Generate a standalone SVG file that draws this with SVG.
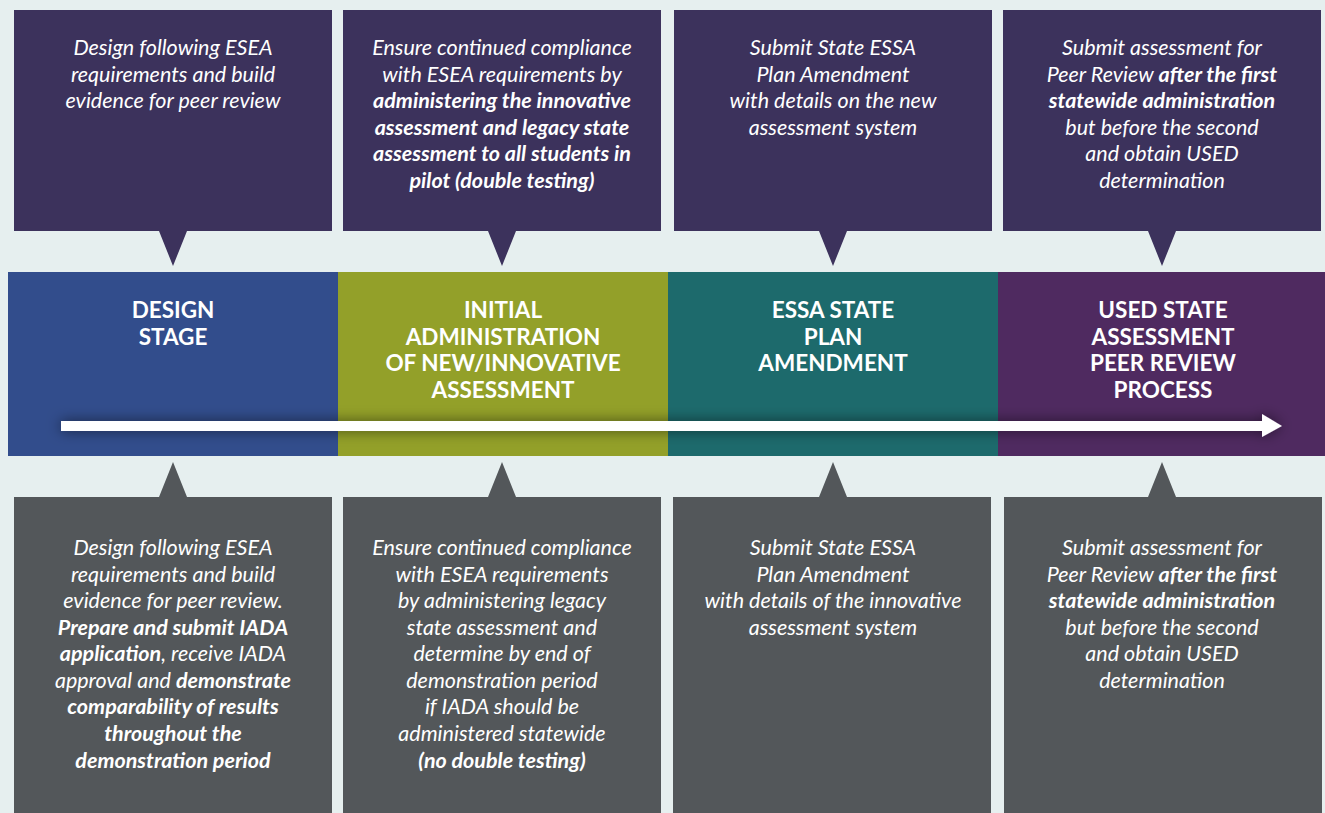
<svg xmlns="http://www.w3.org/2000/svg" width="1325" height="813" viewBox="0 0 1325 813">
<style>
.bg{fill:#e6efef}
.top{fill:#3c325c}
.bot{fill:#53575a}
.t{font-family:Lato,"Open Sans","Liberation Sans",sans-serif;font-style:italic;font-size:21.5px;fill:#ffffff;text-anchor:middle}
.t .b{font-weight:bold}
.h{font-family:Lato,"Open Sans","Liberation Sans",sans-serif;font-weight:bold;font-size:22.5px;fill:#ffffff;text-anchor:middle}
</style>
<defs>
<filter id="sh" x="-5%" y="-200%" width="110%" height="500%">
<feDropShadow dx="0" dy="0" stdDeviation="7" flood-color="#000" flood-opacity="0.55"/>
</filter>
</defs>
<rect class="bg" x="0" y="0" width="1325" height="813"/>

<g id="stage-design">
<rect x="8" y="272" width="330" height="184" fill="#324d8c"/>
<text class="h" x="173" y="318">DESIGN</text>
<text class="h" x="173" y="345">STAGE</text>
</g>
<g id="stage-initial">
<rect x="338" y="272" width="330" height="184" fill="#93a029"/>
<text class="h" x="503" y="318">INITIAL</text>
<text class="h" x="503" y="345">ADMINISTRATION</text>
<text class="h" x="503" y="371">OF NEW/INNOVATIVE</text>
<text class="h" x="503" y="398">ASSESSMENT</text>
</g>
<g id="stage-essa">
<rect x="668" y="272" width="330" height="184" fill="#1d6a6c"/>
<text class="h" x="833" y="318">ESSA STATE</text>
<text class="h" x="833" y="345">PLAN</text>
<text class="h" x="833" y="371">AMENDMENT</text>
</g>
<g id="stage-peer">
<rect x="998" y="272" width="327" height="184" fill="#4f2a60"/>
<text class="h" x="1163" y="318">USED STATE</text>
<text class="h" x="1163" y="345">ASSESSMENT</text>
<text class="h" x="1163" y="371">PEER REVIEW</text>
<text class="h" x="1163" y="398">PROCESS</text>
</g>

<g id="connectors">
<path d="M61 421 H1262 V414 L1282 426 L1262 437 V431 H61 Z" fill="#ffffff" filter="url(#sh)"/>
</g>

<g id="top-design">
<path class="top" d="M14 10 H332 V231 H187 L173 266 L159 231 H14 Z"/>
<text class="t" x="173" y="55">Design following ESEA</text>
<text class="t" x="173" y="82">requirements and build</text>
<text class="t" x="173" y="108">evidence for peer review</text>
</g>
<g id="top-initial">
<path class="top" d="M343 10 H661 V231 H516 L502 266 L488 231 H343 Z"/>
<text class="t" x="502" y="55">Ensure continued compliance</text>
<text class="t" x="502" y="82">with ESEA requirements by</text>
<text class="t" x="502" y="108"><tspan class="b">administering the innovative</tspan></text>
<text class="t" x="502" y="135"><tspan class="b">assessment and legacy state</tspan></text>
<text class="t" x="502" y="161"><tspan class="b">assessment to all students in</tspan></text>
<text class="t" x="502" y="188"><tspan class="b">pilot (double testing)</tspan></text>
</g>
<g id="top-essa">
<path class="top" d="M674 10 H992 V231 H847 L833 266 L819 231 H674 Z"/>
<text class="t" x="833" y="55">Submit State ESSA</text>
<text class="t" x="833" y="82">Plan Amendment</text>
<text class="t" x="833" y="108">with details on the new</text>
<text class="t" x="833" y="135">assessment system</text>
</g>
<g id="top-peer">
<path class="top" d="M1003 10 H1321 V231 H1176 L1162 266 L1148 231 H1003 Z"/>
<text class="t" x="1162" y="55">Submit assessment for</text>
<text class="t" x="1162" y="82">Peer Review <tspan class="b">after the first</tspan></text>
<text class="t" x="1162" y="108"><tspan class="b">statewide administration</tspan></text>
<text class="t" x="1162" y="135">but before the second</text>
<text class="t" x="1162" y="161">and obtain USED</text>
<text class="t" x="1162" y="188">determination</text>
</g>

<g id="bottom-design">
<path class="bot" d="M14 497 H159 L173 462 L187 497 H332 V813 H14 Z"/>
<text class="t" x="173" y="555">Design following ESEA</text>
<text class="t" x="173" y="582">requirements and build</text>
<text class="t" x="173" y="608">evidence for peer review.</text>
<text class="t" x="173" y="635"><tspan class="b">Prepare and submit IADA</tspan></text>
<text class="t" x="173" y="661"><tspan class="b">application</tspan>, receive IADA</text>
<text class="t" x="173" y="688">approval and <tspan class="b">demonstrate</tspan></text>
<text class="t" x="173" y="714"><tspan class="b">comparability of results</tspan></text>
<text class="t" x="173" y="741"><tspan class="b">throughout the</tspan></text>
<text class="t" x="173" y="768"><tspan class="b">demonstration period</tspan></text>
</g>
<g id="bottom-initial">
<path class="bot" d="M343 497 H488 L502 462 L516 497 H661 V813 H343 Z"/>
<text class="t" x="502" y="555">Ensure continued compliance</text>
<text class="t" x="502" y="582">with ESEA requirements</text>
<text class="t" x="502" y="608">by administering legacy</text>
<text class="t" x="502" y="635">state assessment and</text>
<text class="t" x="502" y="661">determine by end of</text>
<text class="t" x="502" y="688">demonstration period</text>
<text class="t" x="502" y="714">if IADA should be</text>
<text class="t" x="502" y="741">administered statewide</text>
<text class="t" x="502" y="768"><tspan class="b">(no double testing)</tspan></text>
</g>
<g id="bottom-essa">
<path class="bot" d="M673 497 H819 L833 462 L847 497 H991 V813 H673 Z"/>
<text class="t" x="833" y="555">Submit State ESSA</text>
<text class="t" x="833" y="582">Plan Amendment</text>
<text class="t" x="833" y="608">with details of the innovative</text>
<text class="t" x="833" y="635">assessment system</text>
</g>
<g id="bottom-peer">
<path class="bot" d="M1004 497 H1148 L1162 462 L1176 497 H1322 V813 H1004 Z"/>
<text class="t" x="1162" y="555">Submit assessment for</text>
<text class="t" x="1162" y="582">Peer Review <tspan class="b">after the first</tspan></text>
<text class="t" x="1162" y="608"><tspan class="b">statewide administration</tspan></text>
<text class="t" x="1162" y="635">but before the second</text>
<text class="t" x="1162" y="661">and obtain USED</text>
<text class="t" x="1162" y="688">determination</text>
</g>
</svg>
